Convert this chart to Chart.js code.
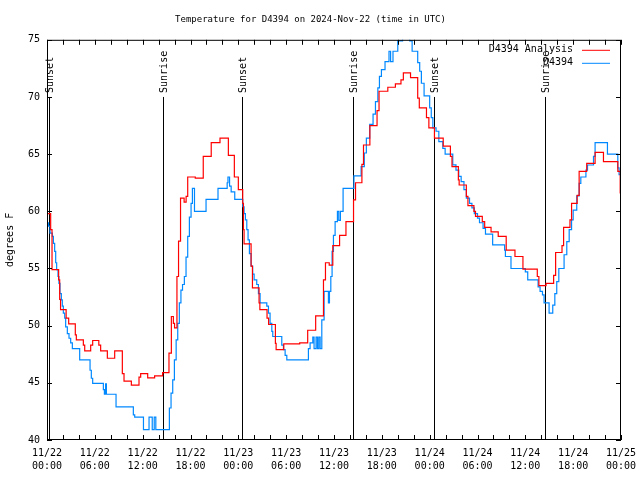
<!DOCTYPE html>
<html lang="en">
<head>
<meta charset="UTF-8">
<title>Temperature for D4394</title>
<script src="https://cdn.jsdelivr.net/npm/chart.js"></script>
<style>
    body { margin: 0; background: #fff; }
    canvas { display: block; }
</style>
</head>
<body>
<canvas id="tempChart" width="640" height="480"></canvas>
<script>
    const titleText = 'Temperature for D4394 on 2024-Nov-22 (time in UTC)';
    const yLabel = 'degrees F';

    // hours since 11/22 00:00 UTC -> temperature (deg F), value holds until next point
    const analysisHours = [0, 0.46, 0.63, 1.46, 1.59, 1.7, 2.4, 2.72, 3.55, 3.68, 4.56, 4.73, 5.48, 5.73, 6.5, 6.73,
        7.57, 8.49, 9.45, 9.66, 10.58, 11.54, 11.75, 12.63, 13.5, 14.5, 15.3, 15.6, 15.85, 16.0, 16.3, 16.5, 16.75,
        17.2, 17.45, 17.65, 18.6, 19.6, 20.6, 21.7, 22.75, 23.5, 24.0, 24.55, 24.64, 24.72, 25.6, 25.77, 26.6, 26.7,
        27.6, 27.8, 28.65, 28.74, 29.7, 31.7, 32.7, 33.7, 34.68, 34.93, 35.4, 35.85, 36.7, 37.5, 38.45, 38.7, 39.5,
        39.7, 40.5, 41.4, 41.65, 42.75, 43.7, 44.4, 44.7, 45.6, 46.5, 46.7, 47.6, 47.9, 48.6, 49.7, 50.6, 50.8, 51.6,
        51.7, 52.6, 52.8, 53.55, 53.75, 54.6, 54.9, 55.7, 56.6, 57.6, 58.7, 59.7, 61.5, 61.7, 62.6, 63.55, 63.8, 64.6,
        64.8, 65.6, 65.8, 66.5, 66.75, 67.7, 68.75, 69.8, 71.6, 71.9, 72];
    const analysisTemps = [59.8, 58.4, 54.9, 54.0, 52.3, 51.4, 50.65, 50.15, 49.2, 48.75, 48.3, 47.8, 48.3, 48.7, 48.3, 47.8,
        47.15, 47.8, 45.8, 45.15, 44.8, 45.5, 45.8, 45.43, 45.6, 45.9, 47.6, 50.8, 50.2, 49.8, 54.3, 57.4, 61.15,
        60.8, 61.3, 63.0, 62.9, 64.8, 66.0, 66.4, 64.9, 63.0, 61.9, 60.7, 58.4, 57.15, 55.2, 53.3, 52.0, 51.4,
        50.65, 50.1, 48.45, 47.9, 48.4, 48.5, 49.6, 50.85, 54.0, 55.5, 55.3, 57.0, 57.9, 59.1, 61.0, 62.5, 64.1,
        65.8, 67.5, 68.8, 70.5, 70.85, 71.15, 71.5, 72.1, 71.7, 69.9, 69.05, 68.2, 67.3, 66.4, 65.7, 64.8, 63.9, 62.75,
        62.3, 61.3, 60.5, 60.0, 59.55, 59.1, 58.6, 58.2, 57.8, 56.6, 56.05, 54.95, 54.3, 53.5, 53.7, 54.4, 56.4, 57.0,
        58.6, 59.25, 60.7, 61.4, 63.5, 64.2, 65.15, 64.35, 63.5, 61.6, 61.6];

    const obsHours = [0, 0.2, 0.38, 0.67, 0.8, 0.96, 1.09, 1.21, 1.38, 1.5, 1.63, 1.8, 1.92, 2.05, 2.22, 2.34, 2.55, 2.76,
        2.97, 3.18, 4.1, 5.4, 5.56, 5.73, 7.07, 7.2, 7.35, 7.45, 8.66, 10.83, 11.0, 12.1, 12.8, 13.2, 13.45, 13.65,
        15.35, 15.56, 15.77, 15.98, 16.2, 16.4, 16.6, 16.8, 17.0, 17.23, 17.44, 17.65, 17.86, 18.07, 18.24, 18.5,
        19.95, 21.45, 22.6, 22.7, 22.9, 23.1, 23.55, 24.55, 24.72, 24.89, 25.06, 25.22, 25.39, 25.6, 25.8, 25.98,
        26.31, 26.52, 26.73, 27.57, 27.78, 27.98, 28.2, 28.32, 29.45, 29.66, 29.87, 30.08, 32.79, 33.0, 33.34, 33.5,
        33.75, 33.92, 34.09, 34.26, 34.47, 34.76, 35.3, 35.43, 35.6, 35.76, 35.93, 36.14, 36.43, 36.6, 36.8, 37.14,
        38.5, 39.4, 39.8, 40.06, 40.48, 40.9, 41.2, 41.5, 41.7, 41.95, 42.4, 42.9, 43.1, 43.4, 44.0, 44.6, 45.5,
        45.8, 46.5, 46.75, 46.96, 47.3, 48.0, 48.2, 48.4, 48.8, 49.15, 49.65, 49.94, 50.9, 51.3, 51.65, 51.95, 52.3,
        52.6, 53.0, 53.3, 53.6, 54.0, 54.25, 54.7, 55.0, 55.9, 57.4, 57.5, 58.2, 60.0, 60.3, 61.6, 61.85, 62.15,
        62.35, 62.98, 63.44, 63.7, 63.94, 64.2, 64.86, 65.2, 65.5, 65.8, 66.0, 66.45, 66.75, 66.96, 67.6, 67.8,
        68.55, 68.75, 70.3, 71.6, 71.76, 72];
    const obsTemps = [59.0, 58.7, 58.1, 57.8, 57.2, 56.5, 55.5, 54.9, 54.3, 53.7, 52.8, 52.25, 51.7, 51.1, 50.65, 49.9, 49.3, 48.9,
        48.5, 48.0, 47.0, 46.1, 45.4, 44.96, 44.4, 44.0, 44.9, 44.0, 42.9, 42.2, 42.0, 40.9, 42.0, 40.9, 42.0, 40.9,
        42.8, 44.1, 45.25, 47.0, 48.75, 50.2, 52.0, 53.1, 53.6, 54.3, 56.0, 57.8, 59.5, 60.7, 62.0, 60.0,
        61.05, 62.0, 62.5, 63.0, 62.2, 61.7, 61.05, 60.4, 59.8, 59.25, 58.4, 57.5, 56.3, 55.2, 54.5, 54.0,
        53.6, 52.8, 52.0, 51.7, 51.1, 50.2, 49.5, 49.05, 48.3, 47.9, 47.4, 47.0, 48.0, 48.5, 49.0, 48.0,
        49.0, 48.0, 49.0, 48.0, 50.5, 53.0, 52.0, 53.0, 54.3, 56.5, 57.9, 59.1, 60.0, 59.2, 60.0, 62.0,
        63.1, 63.9, 65.1, 66.4, 67.6, 68.5, 69.6, 70.8, 71.8, 72.4, 73.1, 74.0, 73.1, 74.0, 74.9, 75.6, 74.9,
        74.0, 73.0, 72.25, 71.2, 70.1, 69.05, 68.2, 67.3, 67.0, 66.1, 65.5, 65.0, 64.07, 63.6, 63.05, 62.6, 61.9,
        61.15, 60.7, 60.3, 59.8, 59.4, 59.0, 58.5, 58.0, 57.07, 56.6, 56.05, 55.0, 54.7, 54.0, 53.4, 53.0, 52.7,
        52.0, 51.1, 51.8, 52.8, 53.85, 55.0, 56.2, 57.35, 58.4, 59.25, 60.1, 61.35, 62.45, 63.0, 63.6, 64.05,
        64.8, 66.0, 65.0, 63.8, 63.2, 63.0];

    const xTickHours = [0, 6, 12, 18, 24, 30, 36, 42, 48, 54, 60, 66, 72];
    const xTickDates = ['11/22', '11/22', '11/22', '11/22', '11/23', '11/23', '11/23', '11/23', '11/24', '11/24', '11/24', '11/24', '11/25'];
    const xTickTimes = ['00:00', '06:00', '12:00', '18:00', '00:00', '06:00', '12:00', '18:00', '00:00', '06:00', '12:00', '18:00', '00:00'];

    const sunHours = [0.25, 14.5, 24.4, 38.4, 48.5, 62.5];
    const sunLabels = ['Sunset', 'Sunrise', 'Sunset', 'Sunrise', 'Sunset', 'Sunrise'];
    const sunLineTop = 70;

    const monoFont = { family: '"DejaVu Sans Mono", monospace', size: 10, weight: 'normal' };
    const fontStr = '10px "DejaVu Sans Mono", monospace';

    const toPoints = (xs, ys) => xs.map((x, i) => ({ x: x, y: ys[i] }));

    // gnuplot-like extras: sun lines, frame with inward ticks, legend
    const gnuplotLook = {
        id: 'gnuplotLook',
        beforeDatasetsDraw(chart) {
            const { ctx, chartArea: a, scales: { x, y } } = chart;
            ctx.save();
            ctx.strokeStyle = '#000';
            ctx.fillStyle = '#000';
            ctx.lineWidth = 1;
            ctx.font = fontStr;
            const top = y.getPixelForValue(sunLineTop);
            sunHours.forEach((h, i) => {
                const px = Math.round(x.getPixelForValue(h)) + 0.5;
                ctx.beginPath();
                ctx.moveTo(px, top);
                ctx.lineTo(px, a.bottom);
                ctx.stroke();
                ctx.save();
                ctx.translate(px + 1, top - 4);
                ctx.rotate(-Math.PI / 2);
                ctx.textAlign = 'left';
                ctx.textBaseline = 'middle';
                ctx.fillText(sunLabels[i], 0, 0);
                ctx.restore();
            });
            ctx.restore();
        },
        afterDatasetsDraw(chart) {
            const { ctx, chartArea: a, scales: { x, y } } = chart;
            ctx.save();
            ctx.strokeStyle = '#000';
            ctx.lineWidth = 1;
            ctx.strokeRect(a.left + 0.5, a.top + 0.5, a.right - a.left - 1, a.bottom - a.top - 1);

            ctx.beginPath();
            for (let h = 0; h <= 72; h += 2) {
                const px = Math.round(x.getPixelForValue(h)) + 0.5;
                ctx.moveTo(px, a.bottom);
                ctx.lineTo(px, a.bottom - 5);
                ctx.moveTo(px, a.top);
                ctx.lineTo(px, a.top + 5);
            }
            for (let t = 40; t <= 75; t += 5) {
                const py = Math.round(y.getPixelForValue(t)) + 0.5;
                ctx.moveTo(a.left, py);
                ctx.lineTo(a.left + 5, py);
                ctx.moveTo(a.right, py);
                ctx.lineTo(a.right - 5, py);
            }
            ctx.stroke();

            // legend, top right inside the plot
            ctx.font = fontStr;
            ctx.textAlign = 'right';
            ctx.textBaseline = 'middle';
            chart.data.datasets.forEach((ds, i) => {
                const ly = a.top + 10 + i * 13;
                ctx.fillStyle = '#000';
                ctx.fillText(ds.label, a.right - 48, ly);
                ctx.strokeStyle = ds.borderColor;
                ctx.beginPath();
                ctx.moveTo(a.right - 39, ly + 0.5);
                ctx.lineTo(a.right - 11, ly + 0.5);
                ctx.stroke();
            });
            ctx.restore();
        }
    };

    new Chart(document.getElementById('tempChart'), {
        type: 'line',
        data: {
            datasets: [{
                label: 'D4394 Analysis',
                data: toPoints(analysisHours, analysisTemps),
                borderColor: '#ff0000',
                borderWidth: 1.2,
                pointRadius: 0,
                stepped: 'before',
                fill: false
            }, {
                label: 'D4394',
                data: toPoints(obsHours, obsTemps),
                borderColor: '#0088ff',
                borderWidth: 1.2,
                pointRadius: 0,
                stepped: 'before',
                fill: false
            }]
        },
        options: {
            responsive: false,
            animation: false,
            layout: { padding: { left: 0, right: 19, top: 0, bottom: 0 } },
            plugins: {
                legend: { display: false },
                tooltip: { enabled: false },
                title: {
                    display: true,
                    text: titleText,
                    color: '#000',
                    font: { ...monoFont, size: 9 },
                    padding: { top: 14, bottom: 15 }
                }
            },
            scales: {
                x: {
                    type: 'linear',
                    min: 0,
                    max: 72,
                    afterBuildTicks: s => { s.ticks = xTickHours.map(v => ({ value: v })); },
                    afterFit: s => { s.height = 40; s.paddingLeft = 0; s.paddingRight = 0; },
                    grid: { display: false, drawTicks: false },
                    border: { display: false },
                    ticks: {
                        autoSkip: false,
                        maxRotation: 0,
                        padding: 7,
                        color: '#000',
                        font: { ...monoFont, lineHeight: 1.3 },
                        callback: (v, i) => [xTickDates[i], xTickTimes[i]]
                    }
                },
                y: {
                    min: 40,
                    max: 75,
                    afterFit: s => { s.width = 47; },
                    grid: { display: false, drawTicks: false },
                    border: { display: false },
                    ticks: { stepSize: 5, padding: 7, color: '#000', font: monoFont },
                    title: { display: true, text: yLabel, color: '#000', font: monoFont }
                }
            }
        },
        plugins: [gnuplotLook]
    });
</script>
</body>
</html>
